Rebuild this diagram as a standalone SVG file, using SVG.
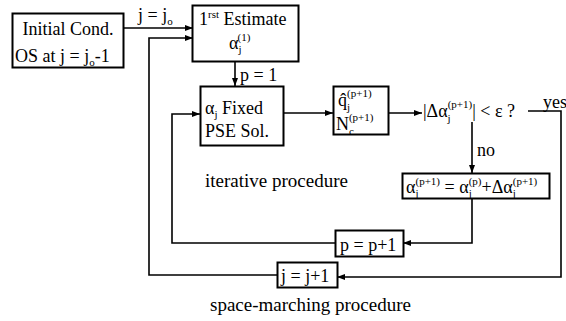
<svg xmlns="http://www.w3.org/2000/svg" width="566" height="321" viewBox="0 0 566 321">
<defs>
<marker id="ah" viewBox="0 0 8 6" refX="8" refY="3" markerWidth="8" markerHeight="6" markerUnits="userSpaceOnUse" orient="auto">
<path d="M0,0 L8,3 L0,6 z" fill="#000"/>
</marker>
<style>
text{font-family:"Liberation Serif","Times New Roman",serif;font-size:18px;fill:#000}
.s{font-size:11px}
.lbl{font-size:19px}
.box{fill:#fff;stroke:#000;stroke-width:2}
.ln{fill:none;stroke:#000;stroke-width:1.6}
.ar{marker-end:url(#ah)}
</style>
</defs>
<rect width="566" height="321" fill="#fff"/>

<g id="connectors">
<path class="ln ar" d="M123,28 H193"/>
<path class="ln ar" d="M277,275 H149 V38 H193"/>
<path class="ln ar" d="M235,61 V86"/>
<path class="ln ar" d="M283,113 H333"/>
<path class="ln ar" d="M388,113 H422"/>
<path class="ln ar" d="M472,122 V173"/>
<path class="ln ar" d="M472,198 V243 H403"/>
<path class="ln ar" d="M335,243 H172 V114 H200"/>
<path class="ln ar" d="M528,111 H561 V277 H337"/>
</g>

<g id="initial">
<rect class="box" x="12.5" y="13.5" width="111" height="54"/>
<text x="68" y="35" text-anchor="middle">Initial Cond.</text>
<text x="15" y="62">OS at j = j<tspan class="s" dy="4">o</tspan><tspan dy="-4">-1</tspan></text>
</g>
<text x="138" y="21">j = j<tspan class="s" dy="4">o</tspan></text>

<g id="estimate">
<rect class="box" x="192.5" y="5.5" width="106" height="56"/>
<text x="199" y="25">1<tspan class="s" dy="-7">rst</tspan><tspan dy="7"> Estimate</tspan></text>
<text x="229" y="49">α<tspan class="s" dy="4">j</tspan><tspan class="s" dx="-4" dy="-12">(1)</tspan></text>
</g>
<text x="240" y="81">p = 1</text>

<g id="fixed">
<rect class="box" x="200.5" y="86.5" width="83" height="59"/>
<text x="205" y="114">α<tspan class="s" dy="4">j</tspan><tspan dy="-4"> Fixed</tspan></text>
<text x="205" y="137">PSE Sol.</text>
</g>

<g id="qn">
<rect class="box" x="333.5" y="86.5" width="55" height="48"/>
<text x="338" y="106">q̂<tspan class="s" dy="5">j</tspan><tspan class="s" dx="-3" dy="-14">(p+1)</tspan></text>
<text x="336" y="130">N<tspan class="s" dy="5">c</tspan><tspan class="s" dx="-5" dy="-14">(p+1)</tspan></text>
</g>

<g id="test">
<text x="423" y="117">|Δα<tspan class="s" dy="5">j</tspan><tspan class="s" dx="-3" dy="-14">(p+1)</tspan><tspan dy="9">| &lt; ε ?</tspan></text>
<text x="543" y="108">yes</text>
</g>
<text x="477" y="156">no</text>

<g id="update">
<rect class="box" x="402.5" y="173.5" width="147" height="25"/>
<text x="406" y="193">α<tspan class="s" dy="4">j</tspan><tspan class="s" dx="-3" dy="-12">(p+1)</tspan><tspan dy="8"> = α</tspan><tspan class="s" dy="4">j</tspan><tspan class="s" dx="-3" dy="-12">(p)</tspan><tspan dy="8">+Δα</tspan><tspan class="s" dy="4">j</tspan><tspan class="s" dx="-3" dy="-12">(p+1)</tspan></text>
</g>

<g id="pinc">
<rect class="box" x="335.5" y="230.5" width="68" height="26"/>
<text x="340" y="251">p = p+1</text>
</g>

<g id="jinc">
<rect class="box" x="277.5" y="262.5" width="60" height="25"/>
<text x="281" y="282">j = j+1</text>
</g>

<text class="lbl" x="205" y="187">iterative procedure</text>
<text class="lbl" x="210" y="311">space-marching procedure</text>
</svg>
